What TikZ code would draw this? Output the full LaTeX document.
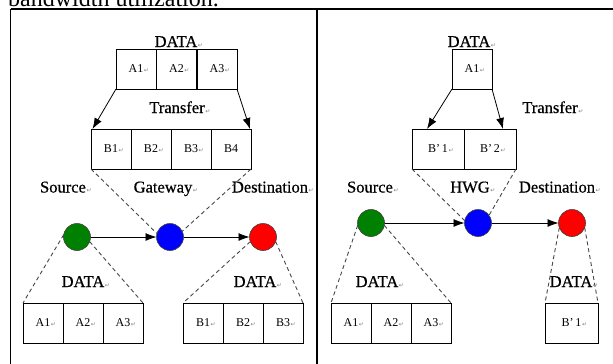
\documentclass[tikz,border=0pt]{standalone}
\usepackage{fontspec}
\setmainfont{Liberation Serif}
\newfontfamily\symfont{DejaVu Sans}
\newfontfamily\lblfont[FakeBold=0.6]{Liberation Serif}
\usetikzlibrary{arrows.meta}
\newcommand\rmk{\rlap{\kern0.6pt\symfont\fontsize{6}{6}\selectfont\textcolor{gray}{↵}}}
\tikzset{
  cell/.style={draw, line width=0.7pt, minimum width=40pt, minimum height=40pt, inner sep=0pt, outer sep=0pt, font=\fontsize{12}{12}\selectfont},
  lbl/.style={anchor=base, inner sep=0pt, font=\lblfont\fontsize{16.5}{16.5}\selectfont},
  nd/.style={circle, draw=black!75, line width=0.6pt, minimum size=27pt, inner sep=0pt, outer sep=0pt},
  arr/.style={-{Latex[length=11pt,width=8pt]}, line width=0.8pt},
  dsh/.style={dash pattern=on 4pt off 3pt, line width=0.9pt, draw=black!72},
  frame/.style={line width=#1, draw=black}
}
\begin{document}
\begin{tikzpicture}[x=1pt,y=-1pt]
\clip (0,0) rectangle (613,364);
\fill[white] (0,0) rectangle (613,364);
% cropped caption text
\node[anchor=base west, inner sep=0pt, font=\fontsize{24}{24}\selectfont] (cap) at (8,6.5) {bandwidth utilization.};
% frame
\coordinate (tl) at (10.5,9.3);
\coordinate (tr) at (613,9.3);
\coordinate (lb) at (10.5,364);
\coordinate (ml) at (317,9.3);
\coordinate (mb) at (317,364);
\draw[frame=2pt] (tl) -- (tr);
\draw[frame=0.9pt] (tl) -- (lb);
\draw[frame=2pt] (ml) -- (mb);

% ===== Left panel =====
\node[lbl] (ldata) at (176,47) {DATA\rmk};
\node[cell] (la1) at (136,69) {A1\rmk};
\node[cell] (la2) at (176.5,69) {A2\rmk};
\node[cell] (la3) at (217,69) {A3\rmk};
\node[lbl] (ltr) at (177,113) {Transfer\rmk};
\node[cell] (lb1) at (111,149) {B1\rmk};
\node[cell] (lb2) at (151,149) {B2\rmk};
\node[cell] (lb3) at (191,149) {B3\rmk};
\node[cell] (lb4) at (231,149) {B4};
\draw[arr] (la1.south west) -- ([xshift=1.5pt]lb1.north west);
\draw[arr] (la3.south east) -- ([xshift=-1pt]lb4.north east);

\node[lbl] (lsrc) at (63,192.5) {Source\rmk};
\node[lbl] (lgw) at (163,192.5) {Gateway\rmk};
\node[lbl] (ldst) at (270,192.5) {Destination\rmk};
\node[nd, fill={rgb,255:red,0;green,128;blue,0}] (lg) at (77,237) {};
\node[nd, fill={rgb,255:red,0;green,0;blue,255}] (lbn) at (170,237) {};
\node[nd, fill={rgb,255:red,255;green,0;blue,0}] (lr) at (263,237) {};
\draw[arr] (lg.east) -- (lbn.west);
\draw[arr] (lbn.east) -- (lr.west);
\draw[dsh] (lb1.south west) -- (lbn.165);
\draw[dsh] (lb4.south east) -- (lbn.25);

\node[lbl] (ldl) at (83,287) {DATA\rmk};
\node[cell] (lc1) at (43,323) {A1\rmk};
\node[cell] (lc2) at (83,323) {A2\rmk};
\node[cell] (lc3) at (123,323) {A3\rmk};
\node[lbl] (ldr) at (255,287) {DATA\rmk};
\node[cell] (ld1) at (203,323) {B1\rmk};
\node[cell] (ld2) at (243,323) {B2\rmk};
\node[cell] (ld3) at (283,323) {B3\rmk};
\draw[dsh] (lg.170) -- (lc1.north west);
\draw[dsh] (lg.-20) -- (lc3.north east);
\draw[dsh] (lr.200) -- (ld1.north west);
\draw[dsh] (lr.-20) -- (ld3.north east);

% ===== Right panel =====
\node[lbl] (rdata) at (469,47) {DATA\rmk};
\node[cell] (ra1) at (472,69) {A1\rmk};
\node[lbl] (rtr) at (550,113) {Transfer\rmk};
\node[cell, minimum width=52pt] (rb1) at (438,149) {B’\,1\rmk};
\node[cell, minimum width=52pt] (rb2) at (490,149) {B’\,2\rmk};
\draw[arr] (ra1.south west) -- ([xshift=15pt]rb1.north west);
\draw[arr] (ra1.south east) -- ([xshift=13pt]rb2.north);

\node[lbl] (rsrc) at (370,192.5) {Source\rmk};
\node[lbl] (rhwg) at (470,192.5) {HWG\rmk};
\node[lbl] (rdst) at (557,192.5) {Destination\rmk};
\node[nd, fill={rgb,255:red,0;green,128;blue,0}] (rg) at (371,223) {};
\node[nd, fill={rgb,255:red,0;green,0;blue,255}] (rbn) at (478,223) {};
\node[nd, fill={rgb,255:red,255;green,0;blue,0}] (rr) at (572,223) {};
\draw[arr] (rg.east) -- (rbn.west);
\draw[arr] (rbn.east) -- (rr.west);
\draw[dsh] (rb1.south west) -- (rbn.170);
\draw[dsh] (rb2.south east) -- (rbn.35);

\node[lbl] (rdl) at (377,287) {DATA\rmk};
\node[cell] (rc1) at (351,323) {A1\rmk};
\node[cell] (rc2) at (391,323) {A2\rmk};
\node[cell] (rc3) at (431,323) {A3\rmk};
\node[lbl] (rdr) at (571,287) {DATA\rmk};
\node[cell, minimum width=53pt] (rd1) at (571.5,323) {B’\,1\rmk};
\draw[dsh] (rg.190) -- (rc1.north west);
\draw[dsh] (rg.-10) -- (rc3.north east);
\draw[dsh] (rr.200) -- (rd1.north west);
\draw[dsh] (rr.-20) -- (rd1.north east);
\end{tikzpicture}
\end{document}
